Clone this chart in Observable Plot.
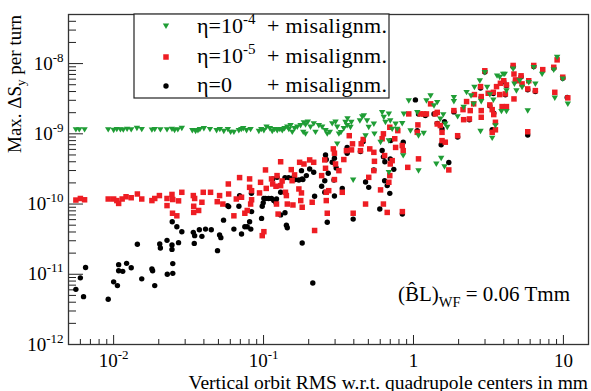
<!DOCTYPE html>
<html>
<head>
<meta charset="utf-8">
<script src="https://cdn.jsdelivr.net/npm/d3@7"></script>
<script src="https://cdn.jsdelivr.net/npm/@observablehq/plot@0.6"></script>
<style>
  html, body { margin: 0; padding: 0; background: white; }
  #chart { width: 591px; height: 391px; }
</style>
</head>
<body>
<div id="chart"></div>
<script>
// ---- axis ticks ----
const xTicks = [0.01, 0.1, 1, 10];
const xTickLabels = ["10^-2", "10^-1", "1", "10"];
const yTicks = [1e-12, 1e-11, 1e-10, 1e-9, 1e-8];
const yTickLabels = ["10^-12", "10^-11", "10^-10", "10^-9", "10^-8"];

// ---- series: eta = 0 + misalignment (black) ----
const blackX = [
  0.0065, 0.0060, 0.0056, 0.0063, 0.0092, 0.0100, 0.0106, 0.0108, 0.0108, 0.0115,
  0.0122, 0.0131, 0.0144, 0.0154, 0.0180, 0.0182, 0.0188, 0.0203, 0.0205, 0.0227,
  0.0228, 0.0245, 0.0245, 0.0248, 0.0248, 0.0246, 0.0264, 0.0285, 0.0271, 0.0340,
  0.0347, 0.0345, 0.0373, 0.0388, 0.0410, 0.0448, 0.0493, 0.0509, 0.0519, 0.0541,
  0.0575, 0.0585, 0.0634, 0.0685, 0.0692, 0.0713, 0.0750, 0.0778, 0.0807, 0.0822,
  0.0832, 0.0830, 0.097, 0.098, 0.0995, 0.1005, 0.103, 0.108, 0.113, 0.117,
  0.122, 0.121, 0.115, 0.123, 0.130, 0.130, 0.139, 0.142, 0.144, 0.139,
  0.147, 0.158, 0.163, 0.172, 0.181, 0.179, 0.183, 0.193, 0.203, 0.216,
  0.181, 0.213, 0.219, 0.244, 0.256, 0.266, 0.259, 0.262, 0.256, 0.270,
  0.287, 0.297, 0.305, 0.295, 0.297, 0.335, 0.361, 0.361, 0.396, 0.443,
  0.462, 0.479, 0.503, 0.544, 0.596, 0.618, 0.630, 0.644, 0.642, 0.668,
  0.695, 0.700, 0.739, 0.705, 0.854, 0.843, 1.03, 1.06, 1.08, 1.20,
  1.37, 1.44, 1.53, 1.72, 1.61, 1.55, 3.43, 3.35, 5.78, 10.6,
  1.86, 2.80, 2.99, 3.41, 4.00, 4.62, 5.22, 6.34, 8.62, 9.9,
  2.83, 4.10, 5.78, 6.50, 2.36, 3.23, 4.17, 4.79, 1.97
];
const blackY = [
  1.25e-11, 8.9e-12, 6.1e-12, 4.8e-12, 4.4e-12, 7.8e-12, 6.9e-12, 1.37e-11, 1.12e-11, 1.1e-11,
  1.43e-11, 1.24e-11, 2.67e-11, 8.6e-12, 1.19e-11, 1.12e-11, 6.9e-12, 2.7e-11, 2.37e-11, 3.04e-11,
  1.0e-11, 2.61e-11, 2.26e-11, 1.42e-11, 1.03e-11, 5.6e-11, 4.76e-11, 4.04e-11, 2.82e-11, 3.95e-11,
  3.55e-11, 2.75e-11, 4.3e-11, 3.47e-11, 4.4e-11, 4.3e-11, 2.17e-11, 3.63e-11, 3.32e-11, 5.9e-11,
  9.5e-11, 9.2e-11, 4.4e-11, 9.3e-11, 1.32e-10, 3.75e-11, 4.76e-11, 4.76e-11, 5.6e-11, 4.4e-11,
  7.8e-11, 1.42e-10, 6.25e-11, 9.3e-11, 1.04e-10, 1.2e-10, 1.2e-10, 1.2e-10, 1.2e-10, 1.12e-10,
  1.18e-10, 1.04e-10, 2.28e-10, 2.4e-10, 1.47e-10, 7.0e-11, 7.5e-11, 5.0e-11, 4.6e-11, 2.38e-10,
  2.38e-10, 2.38e-10, 2.23e-10, 2.2e-10, 2.28e-10, 2.99e-10, 2.23e-10, 2.54e-10, 3.16e-10, 2.83e-10,
  2.79e-11, 7.5e-12, 1.29e-10, 1.79e-10, 1.47e-10, 5.5e-11, 5.0e-10, 4.3e-10, 2.15e-10, 2.74e-10,
  3.93e-10, 4.5e-10, 3.27e-10, 2.2e-10, 1.3e-10, 1.67e-10, 6.4e-10, 5.3e-10, 6.1e-11, 5.6e-10,
  7.8e-10, 2.06e-10, 1.73e-10, 3.06e-10, 8.5e-11, 5.8e-10, 4.7e-10, 4.0e-10, 2.15e-10, 1.83e-10,
  1.42e-10, 4.4e-10, 3.12e-10, 8.0e-10, 7.6e-10, 7.2e-11, 3.04e-9, 1.11e-9, 1.92e-9, 1.82e-9,
  1.92e-9, 1.41e-9, 7.0e-10, 3.9e-10, 1.49e-9, 1.17e-9, 1.96e-9, 1.14e-9, 9.6e-10, 3.3e-9,
  2.05e-9, 4.5e-9, 7.6e-9, 3.75e-9, 5.5e-9, 9.0e-9, 6.5e-9, 9.1e-9, 8.6e-9, 6.2e-9,
  3.3e-9, 3.6e-9, 4.25e-9, 4.0e-9, 1.58e-9, 2.5e-9, 4.85e-9, 5.7e-9, 9.0e-10
];

// ---- series: eta = 1e-5 + misalignment (red) ----
const redX = [
  0.0056, 0.0060, 0.0064, 0.0092, 0.0100, 0.0105, 0.0108, 0.0114, 0.0121, 0.0131,
  0.0144, 0.0154, 0.0180, 0.0188, 0.0202, 0.0227, 0.0245, 0.0248, 0.0271, 0.0285,
  0.0227, 0.0247, 0.0264, 0.0340, 0.0347, 0.0342, 0.0342, 0.0369, 0.0388, 0.0396,
  0.0443, 0.0491, 0.0509, 0.0535, 0.0582, 0.0585, 0.0634, 0.0658, 0.0692, 0.0713,
  0.0750, 0.0778, 0.0807, 0.0807, 0.0820, 0.0832, 0.0832, 0.098, 0.1005, 0.103,
  0.1042, 0.094, 0.0955, 0.113, 0.115, 0.121, 0.123, 0.122, 0.125, 0.130,
  0.130, 0.133, 0.140, 0.142, 0.144, 0.153, 0.155, 0.157, 0.161, 0.172,
  0.174, 0.179, 0.186, 0.177, 0.181, 0.203, 0.216, 0.211, 0.219, 0.244,
  0.256, 0.262, 0.262, 0.266, 0.272, 0.259, 0.292, 0.297, 0.302, 0.318,
  0.297, 0.335, 0.343, 0.357, 0.373, 0.386, 0.392, 0.396, 0.448, 0.443,
  0.462, 0.479, 0.503, 0.511, 0.544, 0.549, 0.544, 0.603, 0.618, 0.630,
  0.642, 0.630, 0.668, 0.685, 0.695, 0.700, 0.695, 0.721, 0.750, 0.760,
  0.786, 0.841, 0.854, 0.843, 0.916, 0.930, 1.06, 1.07, 1.08, 1.11,
  1.17, 1.22, 1.30, 1.40, 1.44, 1.44, 1.51, 1.55, 1.55, 1.63,
  1.72, 1.86, 1.97, 2.16, 2.14, 2.36, 2.39, 2.26, 2.52, 2.55,
  2.80, 2.83, 2.83, 2.83, 2.99, 3.15, 3.23, 3.35, 3.43, 3.41,
  3.52, 3.52, 3.35, 3.58, 3.76, 3.80, 4.00, 3.90, 4.17, 4.17,
  4.10, 4.62, 4.68, 4.79, 4.68, 4.96, 5.22, 5.30, 5.78, 5.87,
  5.78, 6.34, 6.50, 7.28, 8.62, 9.08, 8.76, 9.90, 10.7
];
const redY = [
  1.14e-10, 1.2e-10, 1.15e-10, 1.18e-10, 1.18e-10, 1.12e-10, 1.02e-10, 1.18e-10, 1.27e-10, 1.23e-10,
  1.39e-10, 1.18e-10, 1.12e-10, 1.2e-10, 1.32e-10, 1.2e-10, 1.37e-10, 1.16e-10, 1.11e-10, 1.47e-10,
  9.5e-11, 7.4e-11, 6.8e-11, 1.32e-10, 1.2e-10, 9.3e-11, 7.6e-11, 8.1e-11, 1.06e-10, 1.47e-10,
  1.47e-10, 1.08e-10, 1.32e-10, 1.0e-10, 1.93e-10, 1.39e-10, 6.8e-11, 1.18e-10, 2.38e-10, 1.25e-10,
  7.4e-11, 8.1e-11, 2.28e-10, 1.73e-10, 1.0e-10, 1.55e-10, 1.15e-10, 3.55e-11, 4.04e-11, 3.06e-10,
  1.67e-10, 1.44e-10, 2.04e-10, 2.28e-10, 1.93e-10, 1.79e-10, 2.54e-10, 1.0e-10, 7.2e-11, 4.0e-10,
  1.83e-10, 2.13e-10, 1.47e-10, 1.32e-10, 1.0e-10, 3.09e-10, 2.15e-10, 9.7e-11, 2.6e-10, 1.64e-10,
  3.93e-10, 1.44e-10, 3.72e-10, 1.12e-10, 9.0e-11, 4.25e-10, 3.93e-10, 1.06e-10, 4.2e-11, 2.54e-10,
  4.25e-10, 1.47e-10, 1.12e-10, 7.4e-11, 1.55e-10, 3.23e-10, 6.1e-10, 5.3e-10, 3.72e-10, 2.99e-10,
  2.23e-10, 1.47e-10, 4.3e-10, 5.76e-10, 9.4e-10, 5.9e-10, 7.2e-10, 7.4e-11, 7.2e-10, 5.76e-10,
  8.3e-10, 1.0e-10, 2.4e-10, 6.1e-10, 5.45e-10, 4.06e-10, 2.99e-10, 1.59e-10, 8.5e-10, 1.0e-9,
  4.9e-10, 1.0e-10, 7.6e-11, 2.04e-10, 2.54e-10, 3.72e-10, 1.24e-9, 4.15e-10, 8.5e-10, 6.4e-10,
  1.11e-9, 6.8e-10, 5.76e-10, 7.8e-11, 3.33e-10, 1.92e-9, 1.05e-9, 1.34e-9, 4.4e-10, 1.92e-9,
  1.92e-9, 1.92e-9, 2.67e-9, 1.92e-9, 2.02e-9, 1.38e-9, 1.31e-9, 1.05e-9, 8.0e-10, 7.6e-10,
  3.06e-10, 2.14e-9, 9.4e-10, 1.59e-9, 2.21e-9, 1.63e-9, 2.14e-9, 2.88e-9, 2.67e-9, 3.62e-9,
  4.7e-9, 3.39e-9, 2.14e-9, 1.72e-9, 7.9e-9, 3.78e-9, 2.58e-9, 2.21e-9, 1.88e-9, 3.9e-9,
  1.46e-9, 1.14e-9, 1.05e-9, 4.7e-9, 3.62e-9, 5.24e-9, 5.7e-9, 2.44e-9, 4.97e-9, 2.44e-9,
  3.7e-9, 9.4e-9, 7.1e-9, 5.86e-9, 3.14e-9, 5.7e-9, 6.7e-9, 5.14e-9, 4.36e-9, 5.7e-9,
  1.07e-9, 9.4e-9, 4.12e-9, 8.2e-9, 8.86e-9, 1.13e-8, 3.9e-9, 6.4e-9, 3.25e-9
];

// ---- series: eta = 1e-4 + misalignment (green) ----
const greenX = [
  0.0056, 0.0059, 0.0064, 0.0092, 0.0100, 0.0105, 0.0111, 0.0116, 0.0123, 0.0131,
  0.0143, 0.0154, 0.0180, 0.0188, 0.0205, 0.0227, 0.0245, 0.0255, 0.0268, 0.0285,
  0.0335, 0.0352, 0.0365, 0.0376, 0.0400, 0.0439, 0.0486, 0.0511, 0.0543, 0.0578,
  0.0603, 0.0634, 0.0684, 0.0710, 0.0732, 0.0770, 0.0819, 0.0930, 0.0966, 0.1005,
  0.1047, 0.1102, 0.1143, 0.1184, 0.1234, 0.1284, 0.1333, 0.1380, 0.1439, 0.1475,
  0.1514, 0.1554, 0.1610, 0.1678, 0.1765, 0.1857, 0.1905, 0.1973, 0.1840, 0.1905,
  0.2056, 0.2162, 0.2220, 0.2337, 0.2460, 0.2590, 0.2660, 0.2767, 0.2870, 0.3020,
  0.3100, 0.3180, 0.3430, 0.3610, 0.363,
  0.310, 0.328, 0.352, 0.385, 0.380, 0.396, 0.439, 0.455, 0.467, 0.490,
  0.503, 0.544, 0.549, 0.618, 0.634, 0.650, 0.685, 0.700, 0.721, 0.760,
  0.779, 0.841, 0.862, 0.930, 0.955, 1.06, 1.08, 1.17, 1.22, 1.30,
  1.37, 1.44, 1.42, 1.08, 0.854, 0.685, 0.603, 0.685, 0.479, 1.53,
  1.61, 1.51, 1.68, 1.63,
  1.86, 1.86, 1.58, 1.97, 2.16, 2.26, 2.42, 2.52, 2.55, 2.77,
  2.83, 2.80, 2.99, 3.10, 3.23, 3.41, 3.35, 3.52, 3.61, 3.76,
  3.86, 3.96, 4.06, 4.17, 4.17, 4.62, 4.71, 4.86, 5.11, 5.30,
  5.78, 5.87, 6.50, 6.34, 7.21, 8.62, 9.08, 8.76, 9.90, 10.7
];
const greenY = [
  1.15e-9, 1.15e-9, 1.15e-9, 1.15e-9, 1.13e-9, 1.16e-9, 1.15e-9, 1.14e-9, 1.17e-9, 1.15e-9,
  1.2e-9, 1.16e-9, 1.14e-9, 1.16e-9, 1.15e-9, 1.15e-9, 1.17e-9, 1.13e-9, 1.15e-9, 1.2e-9,
  1.12e-9, 1.09e-9, 1.12e-9, 1.16e-9, 1.19e-9, 1.16e-9, 1.12e-9, 1.16e-9, 1.09e-9, 1.16e-9,
  1.06e-9, 1.06e-9, 1.12e-9, 1.16e-9, 1.19e-9, 1.12e-9, 1.16e-9, 1.09e-9, 1.16e-9, 1.12e-9,
  1.25e-9, 1.19e-9, 1.09e-9, 1.16e-9, 1.12e-9, 1.16e-9, 1.12e-9, 1.19e-9, 1.25e-9, 1.16e-9,
  1.32e-9, 1.06e-9, 1.19e-9, 1.25e-9, 1.32e-9, 1.44e-9, 1.35e-9, 1.48e-9, 1.06e-9, 1.0e-9,
  1.25e-9, 1.4e-9, 1.06e-9, 1.32e-9, 1.25e-9, 1.12e-9, 1.0e-9, 1.06e-9, 1.4e-9, 1.48e-9,
  1.25e-9, 1.0e-9, 1.19e-9, 1.32e-9, 1.65e-9,
  7.2e-10, 1.05e-9, 1.46e-9, 1.46e-9, 1.24e-9, 2.2e-10, 1.54e-9, 1.76e-9, 1.82e-9, 1.54e-9,
  1.24e-9, 1.38e-9, 1.0e-9, 2.02e-9, 1.72e-9, 1.46e-9, 1.92e-9, 1.54e-9, 1.17e-9, 1.38e-9,
  1.17e-9, 1.41e-9, 1.92e-9, 2.97e-9, 1.11e-9, 2.02e-9, 9.4e-10, 1.02e-9, 2.97e-9, 3.5e-9,
  2.52e-9, 2.81e-9, 3.72e-10, 2.99e-10, 4.9e-10, 2.83e-10, 7.6e-10, 8.0e-10, 9.4e-10, 4.5e-10,
  3.41e-10, 1.63e-9, 1.24e-9, 1.38e-9,
  3.3e-9, 2.9e-9, 1.88e-9, 1.76e-9, 2.39e-9, 3.9e-9, 3.5e-9, 2.67e-9, 4.6e-9, 5.7e-9,
  2.9e-9, 1.09e-9, 7.5e-9, 4.6e-9, 3.62e-9, 3.04e-9, 8.7e-10, 1.31e-9, 6.7e-9, 6.4e-9,
  2.09e-9, 7.1e-9, 7.1e-9, 4.12e-9, 2.09e-9, 8.4e-9, 5.14e-9, 4.12e-9, 5.7e-9, 4.6e-9,
  2.14e-9, 5.4e-9, 5.14e-9, 8.86e-9, 7.1e-9, 8.1e-9, 1.23e-8, 3.25e-9, 6.05e-9, 2.67e-9
];

const seriesNames = ["\u03b7=10^-4", "\u03b7=10^-5", "\u03b7=0"];
const annotationValue = "0.06 Tmm";

// ---- styles ----
const GREEN = "#1f9d35";
const RED = "#ee1d23";
const BLACK = "#000000";
const FONT = '"Liberation Serif", "Times New Roman", serif';

const triDown = {
  draw(context, size) {
    const r = Math.sqrt(size / Math.PI);
    context.moveTo(-r, -0.75 * r);
    context.lineTo(r, -0.75 * r);
    context.lineTo(0, 0.95 * r);
    context.closePath();
  }
};

const toRows = (xs, ys) => xs.map((x, i) => ({x, y: ys[i]}));
const blackData = toRows(blackX, blackY);
const redData = toRows(redX, redY);
const greenData = toRows(greenX, greenY);

// minor ticks
const xMinor = [];
for (const e of [-3, -2, -1, 0, 1]) for (let m = 2; m <= 9; m++) {
  const v = m * Math.pow(10, e);
  if (v > 0.00499 && v < 14.7) xMinor.push(v);
}
const yMinor = [];
for (const e of [-12, -11, -10, -9, -8]) for (let m = 2; m <= 9; m++) {
  const v = m * Math.pow(10, e);
  if (v < 4.95e-8) yMinor.push(v);
}

const xLab = new Map(xTicks.map((v, i) => [v, xTickLabels[i]]));
const yLab = new Map(yTicks.map((v, i) => [v, yTickLabels[i]]));

const W = 591, H = 391, ML = 68, MR = 3, MT = 14, MB = 47;
const PW = W - ML - MR, PH = H - MT - MB;
const TICKC = "#222";

const svg = Plot.plot({
  width: W, height: H,
  marginLeft: ML, marginRight: MR, marginTop: MT, marginBottom: MB,
  style: {fontFamily: FONT, fontSize: "19px", background: "white", color: "black", overflow: "visible"},
  x: {type: "log", domain: [0.005, 14.7], ticks: xTicks, tickFormat: d => xLab.get(d) ?? "", tickSize: 0, tickPadding: 9, label: null},
  y: {type: "log", domain: [1e-12, 5e-8], ticks: yTicks, tickFormat: d => yLab.get(d) ?? "", tickSize: 0, tickPadding: 5, label: null},
  marks: [
    Plot.tickY(yMinor, {y: d => d, insetRight: PW - 8, stroke: TICKC, strokeWidth: 1}),
    Plot.tickY(yTicks, {y: d => d, insetRight: PW - 15, stroke: TICKC, strokeWidth: 1}),
    Plot.tickX(xMinor, {x: d => d, insetTop: PH - 5, stroke: TICKC, strokeWidth: 1}),
    Plot.tickX(xTicks, {x: d => d, insetTop: PH - 9, stroke: TICKC, strokeWidth: 1}),
    Plot.dot(blackData, {x: "x", y: "y", r: 2.7, fill: BLACK, stroke: "none"}),
    Plot.dot(redData, {x: "x", y: "y", symbol: "square", r: 3.1, fill: RED, stroke: "none"}),
    Plot.dot(greenData, {x: "x", y: "y", symbol: triDown, r: 3.2, fill: GREEN, stroke: "none"}),
    Plot.frame({stroke: "#333", strokeWidth: 1.3})
  ]
});

// tick labels: superscripts
const root = d3.select(svg);
root.selectAll("text").each(function() {
  const el = d3.select(this);
  el.style("font-size", "19px").style("font-family", FONT).attr("fill", "black");
  const t = this.textContent;
  if (t.includes("^")) {
    const [base, sup] = t.split("^");
    this.textContent = base;
    el.append("tspan").attr("dy", "-0.62em").style("font-size", "13px").text(sup);
  }
});

// y-axis title
const yTitle = root.append("text")
  .attr("transform", "translate(21,15) rotate(-90)")
  .attr("text-anchor", "end")
  .style("font-family", FONT).style("font-size", "19px").attr("fill", "black");
yTitle.append("tspan").text("Max. \u0394S");
yTitle.append("tspan").attr("dy", "4").style("font-size", "13px").text("y");
yTitle.append("tspan").attr("dy", "-4").text(" per turn");

// x-axis title
root.append("text")
  .attr("x", 588).attr("y", 388.5)
  .attr("text-anchor", "end")
  .style("font-family", FONT).style("font-size", "19.5px").attr("fill", "black")
  .text("Vertical orbit RMS w.r.t. quadrupole centers in mm");

// legend
const lg = root.append("g").attr("text-anchor", "start");
lg.append("rect").attr("x", 134).attr("y", 14).attr("width", 255).attr("height", 84)
  .attr("fill", "white").attr("stroke", "#222").attr("stroke-width", 1.2);
const legendRows = [
  {name: seriesNames[0], color: GREEN, sym: triDown, r: 3.2, my: 26, ty: 33},
  {name: seriesNames[1], color: RED, sym: d3.symbolSquare, r: 3.1, my: 57, ty: 63},
  {name: seriesNames[2], color: BLACK, sym: d3.symbolCircle, r: 2.7, my: 86, ty: 92}
];
legendRows.forEach(row => {
  lg.append("path")
    .attr("d", d3.symbol(row.sym, row.r * row.r * Math.PI)())
    .attr("transform", `translate(166,${row.my})`)
    .attr("fill", row.color);
  const t = lg.append("text").attr("x", 197).attr("y", row.ty)
    .attr("text-anchor", "start")
    .style("font-family", FONT).style("font-size", "22px").attr("fill", "black");
  const [base, sup] = row.name.split("^");
  t.append("tspan").text(base);
  if (sup) t.append("tspan").attr("dy", "-0.6em").style("font-size", "15px").text(sup);
  lg.append("text").attr("x", 267).attr("y", row.ty)
    .attr("text-anchor", "start")
    .attr("textLength", 120).attr("lengthAdjust", "spacing")
    .style("font-family", FONT).style("font-size", "22px").attr("fill", "black")
    .text("+ misalignm.");
});

// annotation
const ann = root.append("text")
  .attr("x", 570).attr("y", 301)
  .attr("text-anchor", "end")
  .style("font-family", FONT).style("font-size", "21px").attr("fill", "black");
ann.append("tspan").text("(B\u0302L)");
ann.append("tspan").attr("dy", "6").style("font-size", "14.5px").text("WF");
ann.append("tspan").attr("dy", "-6").text(" = " + annotationValue);

document.getElementById("chart").appendChild(svg);
</script>
</body>
</html>
